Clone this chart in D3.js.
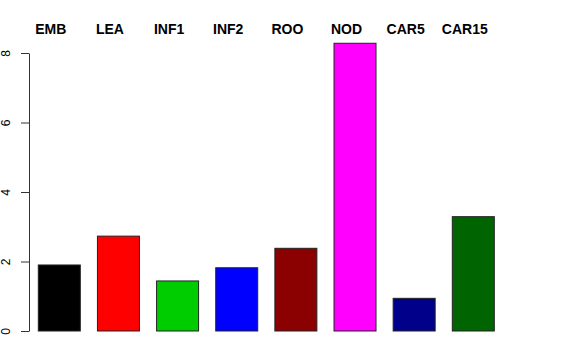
<!DOCTYPE html>
<html>
<head>
<meta charset="utf-8">
<script src="https://cdn.jsdelivr.net/npm/d3@7"></script>
<style>
  body { margin: 0; background: #fff; }
  text { font-family: "Liberation Sans", Arial, sans-serif; }
</style>
</head>
<body>
<div class="canva"></div>
<script>
// data
const categories = ["EMB", "LEA", "INF1", "INF2", "ROO", "NOD", "CAR5", "CAR15"];
const values = [1.90, 2.73, 1.44, 1.82, 2.38, 8.28, 0.94, 3.29];
const colors = ["#000000", "#FF0000", "#00CD00", "#0000FF", "#8B0000", "#FF00FF", "#00008B", "#006400"];
const yTicks = [0, 2, 4, 6, 8];

const svg = d3.select(".canva").append("svg")
            .attr("width", 576)
            .attr("height", 360);

const x = d3.scaleBand()
    .domain(categories)
    .range([38.3, 494.3])
    .paddingInner(0.29)
    .paddingOuter(0);

const y = d3.scaleLinear()
    .domain([0, 8])
    .range([331, 53]);

//bars
svg.selectAll("rect.bar")
    .data(categories)
    .enter().append("rect")
    .attr("class", "bar")
    .attr("x", d => x(d))
    .attr("y", (d, i) => y(values[i]))
    .attr("width", x.bandwidth())
    .attr("height", (d, i) => y(0) - y(values[i]))
    .attr("fill", (d, i) => colors[i])
    .attr("stroke", "#222")
    .attr("stroke-width", 1);

//left axis
const yAxis = svg.append("g")
    .attr("transform", "translate(29,0)")
    .call(d3.axisLeft(y).tickValues(yTicks).tickSize(8).tickSizeOuter(0));
yAxis.select(".domain").attr("stroke", "#333");
yAxis.selectAll(".tick line").attr("stroke", "#333");
yAxis.selectAll(".tick text")
    .attr("font-family", "Liberation Sans, Arial, sans-serif")
    .attr("font-size", 12)
    .attr("fill", "#000")
    .attr("text-anchor", "middle")
    .attr("x", 0)
    .attr("dy", 0)
    .attr("transform", "translate(-19,0) rotate(-90)");

//labels on top
svg.selectAll("text.lab")
    .data(categories)
    .enter().append("text")
    .attr("class", "lab")
    .text(d => d)
    .attr("x", d => x(d) + x.bandwidth() / 2 - 8.5)
    .attr("y", 34)
    .attr("text-anchor", "middle")
    .attr("font-weight", "bold")
    .attr("font-size", 14)
    .attr("fill", "#000");
</script>
</body>
</html>
